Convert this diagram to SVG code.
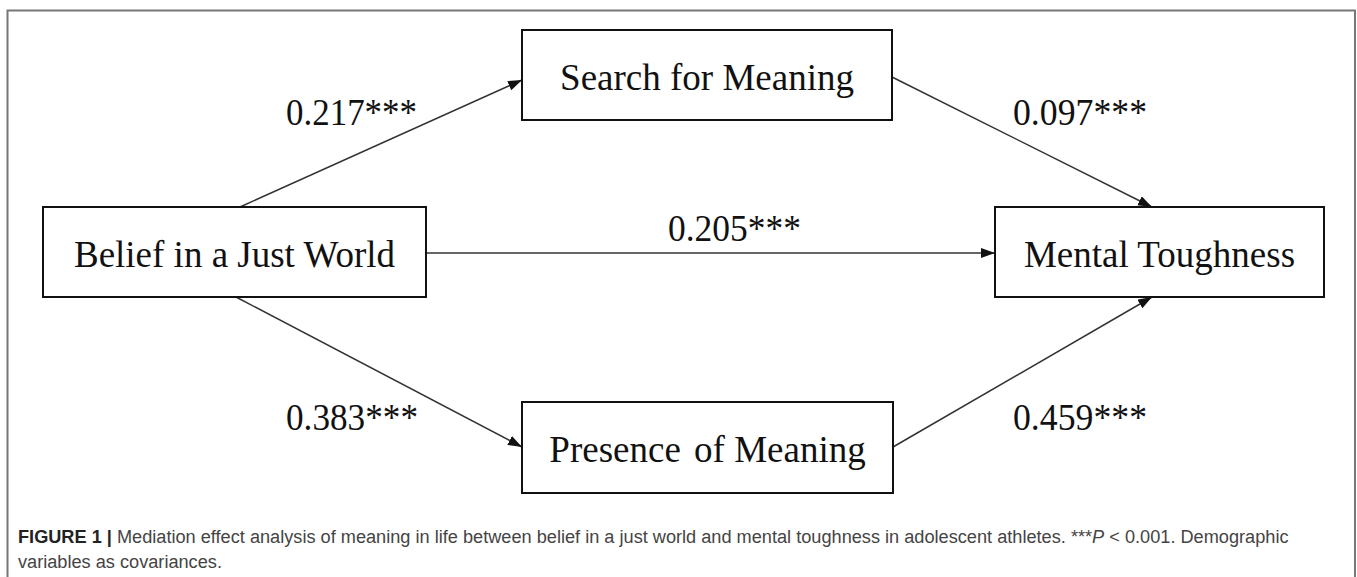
<svg xmlns="http://www.w3.org/2000/svg" width="1357" height="577" viewBox="0 0 1357 577">
<style>
.box{fill:#fff;stroke:#111;stroke-width:2}
.lbl{font-family:"Liberation Serif","Times New Roman",serif;font-size:37px;fill:#111}
.num{font-family:"Liberation Serif","Times New Roman",serif;font-size:38.5px;fill:#111}
.conn{stroke:#333;stroke-width:1.5;fill:none;marker-end:url(#ah)}
.cap{font-family:"Liberation Sans",Arial,sans-serif;font-size:19px;fill:#444}
.capb{font-weight:bold;fill:#222}
</style>
<defs>
<marker id="ah" markerUnits="userSpaceOnUse" markerWidth="16" markerHeight="12" refX="14" refY="5" orient="auto">
<path d="M0,0 L14,5 L0,10 z" fill="#111"/>
</marker>
</defs>
<path d="M7.5,600 V10.5 H1355 V600" fill="none" stroke="#777" stroke-width="2"/>
<g id="connectors">
<line class="conn" x1="240" y1="207" x2="522" y2="80"/>
<line class="conn" x1="892" y1="77" x2="1152" y2="207"/>
<line class="conn" x1="426" y1="253" x2="995" y2="253"/>
<line class="conn" x1="236" y1="297" x2="522" y2="447"/>
<line class="conn" x1="893" y1="447" x2="1152" y2="297"/>
</g>
<g id="edge-labels">
<text class="num" x="286" y="125" textLength="131" lengthAdjust="spacingAndGlyphs">0.217***</text>
<text class="num" x="1013" y="125" textLength="134" lengthAdjust="spacingAndGlyphs">0.097***</text>
<text class="num" x="668" y="241" textLength="133" lengthAdjust="spacingAndGlyphs">0.205***</text>
<text class="num" x="286" y="430" textLength="132" lengthAdjust="spacingAndGlyphs">0.383***</text>
<text class="num" x="1013" y="430" textLength="134" lengthAdjust="spacingAndGlyphs">0.459***</text>
</g>
<g id="node-belief">
<rect class="box" x="43" y="207" width="383" height="90"/>
<text class="lbl" x="234.5" y="267" text-anchor="middle">Belief in a Just World</text>
</g>
<g id="node-search">
<rect class="box" x="522" y="30" width="370" height="90"/>
<text class="lbl" x="707" y="90" text-anchor="middle">Search for Meaning</text>
</g>
<g id="node-mental">
<rect class="box" x="995" y="207" width="329" height="90"/>
<text class="lbl" x="1159.5" y="267" text-anchor="middle">Mental Toughness</text>
</g>
<g id="node-presence">
<rect class="box" x="522" y="402" width="371" height="91"/>
<text class="lbl" x="707.5" y="462" text-anchor="middle">Presence <tspan dx="4">of Meaning</tspan></text>
</g>
<g id="caption" transform="scale(0.957,1)">
<text class="cap" x="18.8" y="543"><tspan class="capb">FIGURE 1 |</tspan> Mediation effect analysis of meaning in life between belief in a just world and mental toughness in adolescent athletes. ***<tspan font-style="italic">P</tspan> &lt; 0.001. Demographic</text>
<text class="cap" x="18.8" y="568">variables as covariances.</text>
</g>
</svg>
